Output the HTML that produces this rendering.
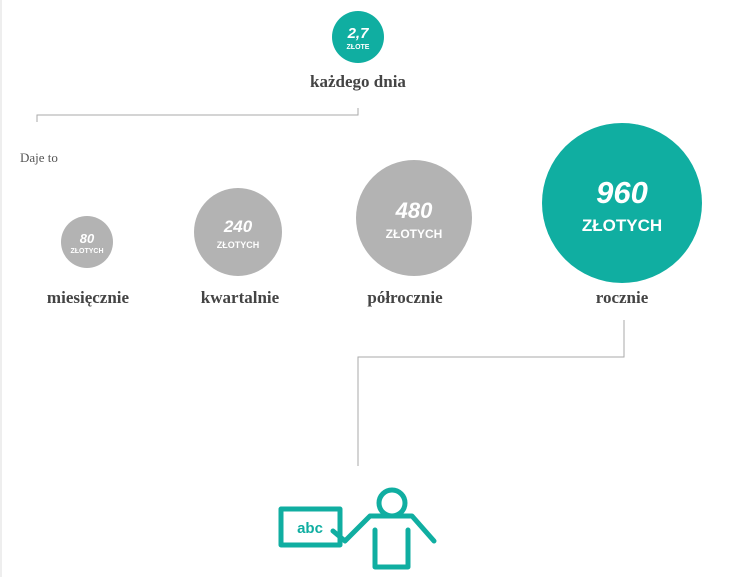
<!DOCTYPE html>
<html><head><meta charset="utf-8"><style>
body{margin:0;width:742px;height:577px;background:#fff;position:relative;overflow:hidden;font-family:"Liberation Serif",serif}
.c{position:absolute;border-radius:50%;color:#fff;font-family:"Liberation Sans",sans-serif;font-weight:bold;text-align:center;display:flex;flex-direction:column;align-items:center;justify-content:center}
.g{background:#b3b3b3}.t{background:#10aea1}
.l{position:absolute;font-weight:bold;color:#444;font-size:17px;transform:translateX(-50%);white-space:nowrap}
</style></head><body>
<div style="position:absolute;left:0;top:0;width:2px;height:577px;background:#eee"></div>
<div class="c t" style="left:332px;top:11px;width:52px;height:52px"><span style="font-size:15px;font-style:italic;line-height:20px">2,7</span><span style="font-size:7px">ZŁOTE</span></div>
<div class="l" style="left:358px;top:72px">każdego dnia</div>
<svg width="742" height="577" style="position:absolute;left:0;top:0">
<polyline points="37,122 37,115 358,115 358,108" fill="none" stroke="#aaa" stroke-width="1"/>
<polyline points="624,320 624,357 358,357 358,466" fill="none" stroke="#aaa" stroke-width="1"/>
<g stroke="#10aea1" stroke-width="5" fill="none" stroke-linejoin="round" stroke-linecap="round">
<rect x="281" y="509" width="59" height="36"/>
<circle cx="392" cy="503" r="13"/>
<polyline points="333,531 345,541 370,516 412,516 434,541"/>
<polyline points="375,530 375,567 408,567 408,530"/>
</g>
<text x="310" y="533" font-family="Liberation Sans" font-weight="bold" font-size="15" fill="#10aea1" text-anchor="middle">abc</text>
</svg>
<div style="position:absolute;left:20px;top:150px;font-size:13px;color:#555">Daje to</div>
<div class="c g" style="left:61px;top:216px;width:52px;height:52px"><span style="font-size:13px;font-style:italic;line-height:18px">80</span><span style="font-size:7px">ZŁOTYCH</span></div>
<div class="c g" style="left:194px;top:188px;width:88px;height:88px"><span style="font-size:17px;font-style:italic;line-height:26px">240</span><span style="font-size:9px">ZŁOTYCH</span></div>
<div class="c g" style="left:356px;top:160px;width:116px;height:116px"><span style="font-size:22px;font-style:italic;line-height:32px">480</span><span style="font-size:12px">ZŁOTYCH</span></div>
<div class="c t" style="left:542px;top:123px;width:160px;height:160px"><span style="font-size:31px;font-style:italic;line-height:46px">960</span><span style="font-size:17px">ZŁOTYCH</span></div>
<div class="l" style="left:88px;top:288px">miesięcznie</div>
<div class="l" style="left:240px;top:288px">kwartalnie</div>
<div class="l" style="left:405px;top:288px">półrocznie</div>
<div class="l" style="left:622px;top:288px">rocznie</div>
</body></html>
